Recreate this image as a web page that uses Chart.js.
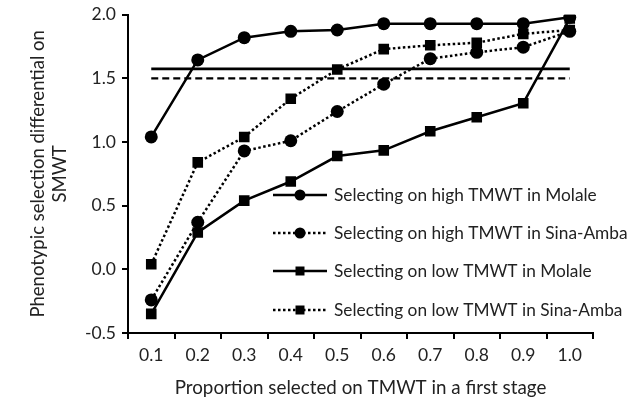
<!DOCTYPE html>
<html><head><meta charset="utf-8">
<script src="https://cdn.jsdelivr.net/npm/chart.js@4/dist/chart.umd.min.js"></script>
<style>html,body{margin:0;padding:0;background:#fff}#wrap{width:628px;height:400px}</style>
</head><body><div id="wrap"><canvas id="c" width="628" height="400"></canvas></div>
<script>
const categories = ['0.1','0.2','0.3','0.4','0.5','0.6','0.7','0.8','0.9','1.0'];
const highMolale = [1.04,1.645,1.82,1.87,1.88,1.93,1.93,1.93,1.93,1.98];
const highSina   = [-0.24,0.37,0.93,1.01,1.24,1.455,1.655,1.705,1.745,1.87];
const lowMolale  = [-0.35,0.29,0.54,0.69,0.89,0.935,1.085,1.195,1.305,1.97];
const lowSina    = [0.04,0.84,1.04,1.34,1.57,1.73,1.76,1.78,1.85,1.88];
const refSolid = 1.575;
const refDashed = 1.5;
const legendLabels = ['Selecting on high TMWT in Molale','Selecting on high TMWT in Sina-Amba','Selecting on low TMWT in Molale','Selecting on low TMWT in Sina-Amba'];

const FONT = 'Lato';
const TXT = '#222';
const dot = [2.5,2.5];

function ds(label, data, style, dash){
  return {label, data, borderColor:'#000', backgroundColor:'#000', borderWidth:2.5,
    borderDash: dash||[], pointStyle: style, pointRadius: style==='rect'?7.5:6.5,
    pointBorderWidth:0, tension:0, fill:false};
}
const datasets = [
  ds(legendLabels[0], highMolale, 'circle'),
  ds(legendLabels[1], highSina, 'circle', dot),
  ds(legendLabels[2], lowMolale, 'rect'),
  ds(legendLabels[3], lowSina, 'rect', dot),
  {label:'ref1', data: categories.map(()=>refSolid), borderColor:'#000', borderWidth:2.8, pointRadius:0},
  {label:'ref2', data: categories.map(()=>refDashed), borderColor:'#000', borderWidth:2.3, borderDash:[7,4], pointRadius:0}
];

const legendPlugin = {
  id:'customLegend',
  afterDraw(chart){
    const ctx = chart.ctx;
    const rows = [195,233,271,310];
    const x0 = 273, x1 = 327, xm = 300, xt = 334;
    ctx.save();
    rows.forEach((y,i)=>{
      const d = chart.data.datasets[i];
      ctx.strokeStyle='#000'; ctx.lineWidth=2.5;
      ctx.setLineDash(d.borderDash||[]);
      ctx.beginPath(); ctx.moveTo(x0,y); ctx.lineTo(x1,y); ctx.stroke();
      ctx.setLineDash([]);
      ctx.fillStyle='#000';
      ctx.beginPath();
      if(d.pointStyle==='circle'){ ctx.arc(xm,y,5.5,0,Math.PI*2); }
      else { ctx.rect(xm-4.5,y-4.5,9,9); }
      ctx.fill();
      ctx.fillStyle=TXT; ctx.font='17.3px '+FONT; ctx.textBaseline='middle'; ctx.textAlign='left';
      ctx.fillText(legendLabels[i], xt, y);
    });
    ctx.restore();
  }
};

new Chart(document.getElementById('c'), {
  type:'line',
  data:{labels:categories, datasets},
  options:{
    responsive:false, animation:false,
    layout:{padding:{top:14,right:35,left:0,bottom:0}},
    plugins:{legend:{display:false}, tooltip:{enabled:false}},
    scales:{
      x:{
        offset:true,
        grid:{display:true, offset:true, drawOnChartArea:false, drawTicks:true, tickLength:6, color:'#000', lineWidth:2},
        border:{display:true, color:'#000', width:2},
        ticks:{color:TXT, font:{family:FONT, size:17.5}, padding:6, maxRotation:0},
        title:{display:true, text:'Proportion selected on TMWT in a first stage', color:TXT, font:{family:FONT, size:18.8, lineHeight:1.2}, padding:{top:4,bottom:1}},
        afterFit(s){ s.height = 67; }
      },
      y:{
        min:-0.5, max:2.0,
        grid:{display:true, drawOnChartArea:false, drawTicks:true, tickLength:6, color:'#000', lineWidth:2},
        border:{display:true, color:'#000', width:2},
        ticks:{stepSize:0.5, color:TXT, font:{family:FONT, size:17.5, lineHeight:1.0}, padding:6, callback:v=>Number(v).toFixed(1)},
        title:{display:true, text:['Phenotypic selection differential on','SMWT'], color:TXT, font:{family:FONT, size:18.5, lineHeight:1.2}, padding:{top:27,bottom:4}},
        afterFit(s){ s.width = 128; }
      }
    }
  },
  plugins:[legendPlugin]
});
</script></body></html>
